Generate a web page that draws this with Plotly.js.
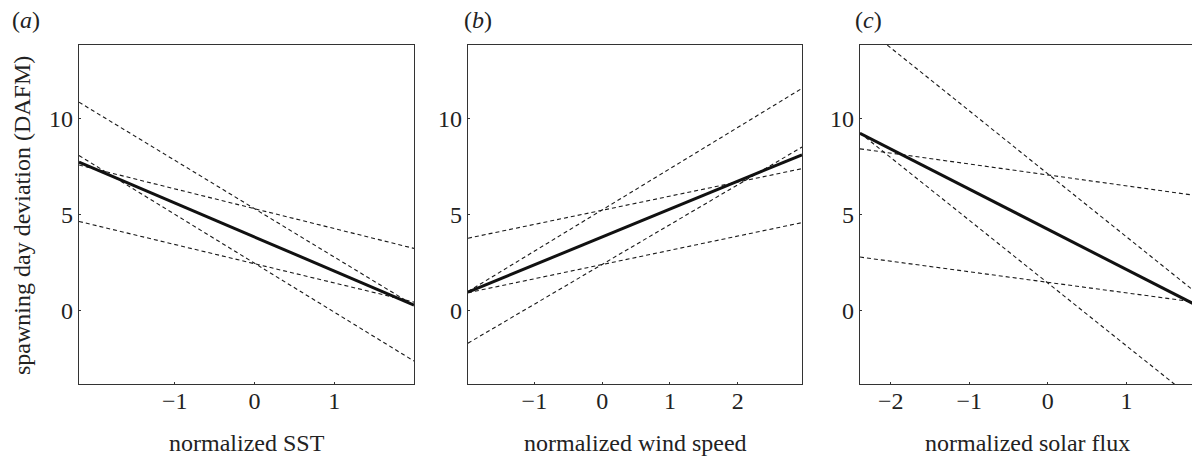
<!DOCTYPE html>
<html>
<head>
<meta charset="utf-8">
<script src="https://cdn.plot.ly/plotly-3.0.1.min.js"></script>
<style>
html,body{margin:0;padding:0;overflow:hidden;background:#fff;}
#chart{width:1196px;height:457px;}
</style>
</head>
<body>
<div id="chart"></div>
<script>
// Panel (a): normalized SST
const sstX = [-2.2, 2.0];
const sstFit = [7.72, 0.30];
const sstDashes = [
  [10.83, 0.28],
  [8.06, -2.61],
  [7.57, 3.24],
  [4.64, 0.45]
];
// Panel (b): normalized wind speed
const windX = [-1.98, 2.95];
const windFit = [0.97, 8.10];
const windDashes = [
  [3.77, 7.38],
  [-1.68, 8.50],
  [1.00, 11.55],
  [0.94, 4.58]
];
// Panel (c): normalized solar flux
const solarX = [-2.39, 1.86];
const solarFit = [9.22, 0.35];
const solarDashes = [
  [14.93, 1.03],
  [9.23, -4.62],
  [8.41, 6.00],
  [2.79, 0.46]
];
const panelLabels = ['(<i>a</i>)', '(<i>b</i>)', '(<i>c</i>)'];
const xTitles = ['normalized SST', 'normalized wind speed', 'normalized solar flux'];
const yTitle = 'spawning day deviation (DAFM)';
const yTicks = [0, 5, 10];
const xTicksA = [-1, 0, 1];
const xTicksB = [-1, 0, 1, 2];
const xTicksC = [-2, -1, 0, 1];

const W = 1196, H = 457;
const FONT = 'Liberation Serif';
const FS = 24;
const panels = [
  {x: sstX, fit: sstFit, dashes: sstDashes, px: [79, 414], ticks: xTicksA, lab: 10},
  {x: windX, fit: windFit, dashes: windDashes, px: [468, 802], ticks: xTicksB, lab: 462},
  {x: solarX, fit: solarFit, dashes: solarDashes, px: [860, 1194], ticks: xTicksC, lab: 853}
];
const yDom = [(H - 384) / H, (H - 45) / H];
const yRange = [-3.8, 13.8];

const traces = [];
const layout = {
  width: W, height: H,
  margin: {l: 0, r: 0, t: 0, b: 0},
  paper_bgcolor: '#fff', plot_bgcolor: '#fff',
  showlegend: false,
  font: {family: FONT, size: FS, color: '#222'},
  annotations: []
};

panels.forEach((p, i) => {
  const sfx = i === 0 ? '' : String(i + 1);
  const xa = 'x' + sfx, ya = 'y' + sfx;
  p.dashes.forEach(d => {
    traces.push({x: p.x, y: d, xaxis: xa, yaxis: ya, mode: 'lines',
      line: {color: '#1a1a1a', width: 1.1, dash: '4px,3px'}, hoverinfo: 'skip'});
  });
  traces.push({x: p.x, y: p.fit, xaxis: xa, yaxis: ya, mode: 'lines',
    line: {color: '#111', width: 3}, hoverinfo: 'skip'});

  const common = {showgrid: false, zeroline: false, showline: true, mirror: true,
    linecolor: '#333', linewidth: 1.3, ticks: 'inside', ticklen: 2, tickwidth: 1,
    tickcolor: '#333', tickfont: {family: FONT, size: FS, color: '#222'}, fixedrange: true};
  layout['xaxis' + sfx] = Object.assign({}, common, {
    domain: [p.px[0] / W, p.px[1] / W], range: [p.x[0], p.x[1]],
    tickvals: p.ticks, anchor: ya, ticklabelstandoff: -5
  });
  layout['yaxis' + sfx] = Object.assign({}, common, {
    domain: yDom, range: yRange, tickvals: yTicks, anchor: xa, ticklabelstandoff: 0
  });

  layout.annotations.push({
    text: panelLabels[i], xref: 'paper', yref: 'paper', showarrow: false,
    x: p.lab / W, y: 1 - 20 / H, xanchor: 'left', yanchor: 'middle',
    font: {family: FONT, size: FS, color: '#222'}
  });
  layout.annotations.push({
    text: xTitles[i], xref: 'paper', yref: 'paper', showarrow: false,
    x: (p.px[0] + p.px[1]) / 2 / W, y: 0, xanchor: 'center', yanchor: 'bottom',
    borderpad: 0,
    font: {family: FONT, size: FS, color: '#222'}
  });
});
layout.annotations.push({
  text: yTitle, xref: 'paper', yref: 'paper', showarrow: false, textangle: -90,
  x: 22 / W, y: 1 - 216 / H, xanchor: 'center', yanchor: 'middle',
  font: {family: FONT, size: FS, color: '#222'}
});

Plotly.newPlot('chart', traces, layout, {staticPlot: true, displayModeBar: false});
</script>
</body>
</html>
